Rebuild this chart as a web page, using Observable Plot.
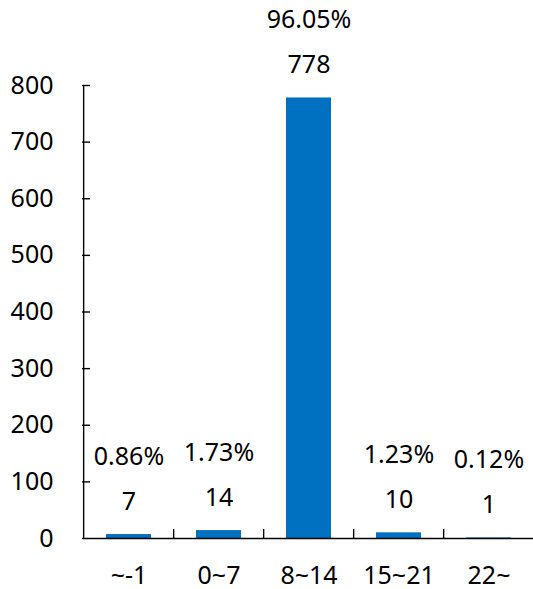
<!DOCTYPE html>
<html>
<head>
<meta charset="utf-8">
<script src="https://cdn.jsdelivr.net/npm/d3@7"></script>
<script src="https://cdn.jsdelivr.net/npm/@observablehq/plot@0.6"></script>
<style>
  html, body { margin: 0; padding: 0; background: #fff; }
  svg { display: block; }
</style>
</head>
<body>
<div id="chart"></div>
<script>
const categories = ["~-1", "0~7", "8~14", "15~21", "22~"];
const counts = [7, 14, 778, 10, 1];
const percents = ["0.86%", "1.73%", "96.05%", "1.23%", "0.12%"];
const yTicks = [0, 100, 200, 300, 400, 500, 600, 700, 800];

const data = categories.map((c, i) => ({cat: c, count: counts[i], pct: percents[i]}));

const W = 533, H = 589;
const mL = 82, mT = 85, mB = 51;
const xRange = [82, 535.5];
const step = (xRange[1] - xRange[0]) / categories.length;
const half = step / 2;
const font = "'Noto Sans', 'Open Sans', sans-serif";
const fs = 25;

const chart = Plot.plot({
  width: W,
  height: H,
  marginLeft: mL,
  marginRight: 0,
  marginTop: mT,
  marginBottom: mB,
  style: {fontFamily: font, background: "#fff"},
  x: {domain: categories, range: xRange, paddingInner: 0.5, paddingOuter: 0.25, axis: null},
  y: {domain: [0, 800], axis: null},
  marks: [
    Plot.barY(data, {x: "cat", y: "count", fill: "#0070C0"}),
    // y axis line
    Plot.ruleX([categories[0]], {x: d => d, dx: -half, stroke: "#000", strokeWidth: 1.4}),
    // y ticks (inside)
    Plot.ruleY(yTicks.filter(d => d > 0), {y: d => d, insetRight: W - mL - 8, stroke: "#000", strokeWidth: 1.4}),
    // y tick labels
    Plot.text(yTicks, {y: d => d, frameAnchor: "left", dx: -29, textAnchor: "end", text: d => String(d), fontSize: fs, fill: "#000"}),
    // x axis line
    Plot.ruleY([0], {stroke: "#000", strokeWidth: 1.4}),
    // category boundary ticks
    Plot.ruleX(categories.slice(1), {x: d => d, dx: -half, insetTop: H - mT - mB - 9, stroke: "#000", strokeWidth: 1.4}),
    // x labels
    Plot.text(categories, {x: d => d, frameAnchor: "bottom", dy: 37, text: d => d, fontSize: fs, fill: "#000", lineAnchor: "middle"}),
    // value labels
    Plot.text(data, {x: "cat", y: "count", text: d => String(d.count), dy: -33, fontSize: fs, fill: "#000", lineAnchor: "middle"}),
    // percent labels
    Plot.text(data, {x: "cat", y: "count", text: "pct", dy: -78, fontSize: fs, fill: "#000", lineAnchor: "middle"})
  ]
});
document.getElementById("chart").appendChild(chart);
</script>
</body>
</html>
